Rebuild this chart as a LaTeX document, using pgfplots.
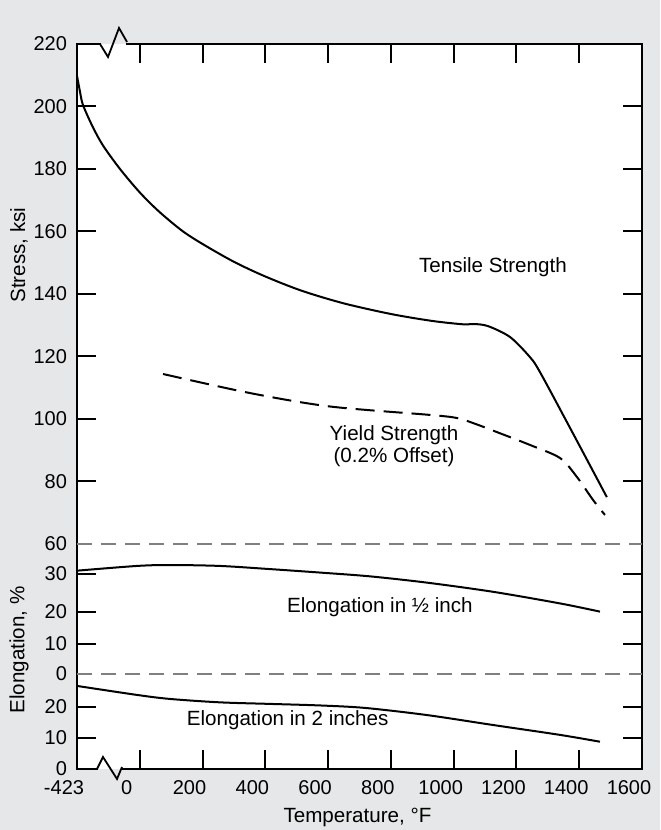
\documentclass[border=0pt]{standalone}
\usepackage{fontspec}
\setmainfont{Liberation Sans}
\usepackage{pgfplots}
\pgfplotsset{compat=1.18}

\definecolor{bggray}{HTML}{E6E7E8}
\definecolor{rulegray}{HTML}{808080}

% the three axes share one box; x runs in "display" units where the
% left edge (-200) stands for -423 F behind the axis break
\pgfplotsset{
  chartbox/.style={
    at={(38.5pt,30.5pt)}, anchor=south west,
    scale only axis, width=282.5pt, height=362.5pt,
    xmin=-200, xmax=1600,
  },
}

\begin{document}
\begin{tikzpicture}[font=\fontsize{10.3}{12}\selectfont]
\fill[bggray] (0,0) rectangle (330pt,415pt);
\useasboundingbox (0,0) rectangle (330pt,415pt);

% stress (ksi) -- also draws the frame and every tick
\begin{axis}[chartbox,
  ymin=-12, ymax=220,
  axis background/.style={fill=white},
  axis line style={line width=0.9pt, black},
  tick style={line width=1pt, black},
  major tick length=9.5pt,
  tick align=inside,
  tick pos=both, ticklabel pos=left,
  tick label style={font=\fontsize{10}{12}\selectfont},
  /pgf/number format/assume math mode=true,
  xtick={0,200,400,600,800,1000,1200,1400},
  xticklabels={0,200,400,600,800,1000,1200,1400},
  extra x ticks={-200,1600},
  extra x tick labels={-423,1600},
  extra x tick style={major tick length=0pt},
  xticklabel style={xshift=-6.5pt, yshift=-2pt},
  yticklabel style={xshift=-1.5pt},
  ytick={-2.08,7.84,28,38.24,50.4,80,100,120,140,160,180,200},
  yticklabels={10,20,10,20,30,80,100,120,140,160,180,200},
  extra y ticks={-12,18.4,60,220},
  extra y tick labels={0,0,60,220},
  extra y tick style={major tick length=0pt},
]
% tensile strength
\addplot[smooth, tension=0.5, line width=1pt, black] coordinates {
  (-200,209.8) (-190,204.5) (-181,200.5) (-150,193.5) (-117,187.5)
  (-63,180) (0,172.5) (60,166.5) (134,160.3) (200,156) (300,150.3)
  (400,145.6) (517,141) (650,137) (800,133.6) (930,131.4) (1030,130.3)
  (1065,130.4) (1110,129.7) (1180,126.2) (1243,119.8) (1275,115)
  (1371,97.1) (1488,75)
};
% yield strength, 0.2% offset
\addplot[smooth, tension=0.5, line width=1pt, black,
  dash pattern=on 9.5pt off 4.5pt] coordinates {
  (74,114.4) (351,108.3) (606,104) (925,101.3) (1011,100.3) (1070,98.4)
  (1138,95.8) (1243,91.7) (1339,87.5) (1393,81.4) (1444,74.1) (1482,69.3)
};
\addplot[rulegray, line width=0.75pt, dash pattern=on 7.5pt off 4.5pt]
  coordinates {(-200,60) (1600,60)};
\node at (axis cs:1125,148.6) {Tensile Strength};
\node[align=center, font=\fontsize{10.3}{11}\selectfont]
  at (axis cs:810,91.4) {Yield Strength\\(0.2\% Offset)};
\end{axis}

% elongation in 1/2 inch (%)
\begin{axis}[chartbox, hide axis, ymin=-30.16, ymax=200]
\addplot[smooth, tension=0.5, line width=1pt, black] coordinates {
  (-200,32.8) (-9,34.3) (96,34.6) (256,34.3) (415,33.3) (574,32.2)
  (733,31.0) (915,29.0) (1125,26.1) (1339,22.4) (1466,19.8)
};
\addplot[rulegray, line width=0.75pt, dash pattern=on 7.5pt off 4.5pt]
  coordinates {(-200,0) (1600,0)};
\node at (axis cs:765,21.3) {Elongation in ½ inch};
\end{axis}

% elongation in 2 inches (%)
\begin{axis}[chartbox, hide axis, ymin=0, ymax=233.9]
\addplot[smooth, tension=0.5, line width=1pt, black] coordinates {
  (-200,26.8) (-9,23.9) (96,22.6) (256,21.5) (415,21.0) (574,20.5)
  (718,19.7) (915,17.4) (1125,14.2) (1339,11.0) (1466,8.8)
};
\node at (axis cs:471,15.8) {Elongation in 2 inches};
\end{axis}

% axis breaks
\fill[white] (50.6pt,392.4pt) rectangle (63pt,393pt);
\fill[bggray] (50.6pt,393pt) rectangle (63pt,393.6pt);
\fill[white] (49pt,30.5pt) rectangle (60.5pt,31.1pt);
\fill[bggray] (49pt,29.9pt) rectangle (60.5pt,30.5pt);
\draw[line width=0.9pt, black] (50pt,393pt) -- (54pt,386.5pt) -- (59.5pt,401pt) -- (63.5pt,394pt);
\draw[line width=0.9pt, black] (48.5pt,30.5pt) -- (51.5pt,36.5pt) -- (58.5pt,25.5pt) -- (61pt,31.5pt);

\node[rotate=90] at (9.5pt,287.5pt) {Stress, ksi};
\node[rotate=90] at (9.5pt,90pt) {Elongation, \%};
\node at (178.75pt,6.5pt) {Temperature, °F};
\end{tikzpicture}
\end{document}
